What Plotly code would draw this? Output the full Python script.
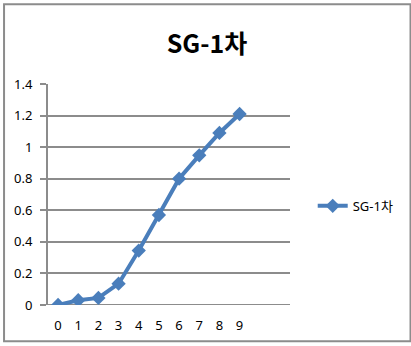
import plotly.graph_objects as go

categories = [0, 1, 2, 3, 4, 5, 6, 7, 8, 9]
values = [0.0, 0.03, 0.045, 0.135, 0.345, 0.57, 0.80, 0.948, 1.09, 1.21]
series_name = "SG-1차"
title_text = "SG-1차"
y_ticks = [0, 0.2, 0.4, 0.6, 0.8, 1.0, 1.2, 1.4]
y_labels = ["0", "0.2", "0.4", "0.6", "0.8", "1", "1.2", "1.4"]
n_slots = 12

BLUE = "#4a7ebb"
GRID = "#8c8c8c"
FONT = "Noto Sans, Noto Sans CJK KR, sans-serif"

fig = go.Figure()
fig.add_trace(go.Scatter(
    x=categories, y=values, name=series_name, mode="lines+markers",
    line=dict(color=BLUE, width=4),
    marker=dict(symbol="diamond", size=11, color=BLUE),
    xaxis="x2", yaxis="y",
))

W, H = 411, 346
L, R, T, B = 48, 293, 84, 307

fig.update_layout(
    width=W, height=H,
    margin=dict(l=L, r=W - R, t=T, b=H - B),
    paper_bgcolor="white", plot_bgcolor="white",
    title=dict(text="<b>" + title_text + "</b>", x=(207) / W, xanchor="center",
               y=1 - 44 / H, yanchor="middle",
               font=dict(family="Noto Sans CJK KR, sans-serif", size=25, color="black")),
    showlegend=True,
    legend=dict(x=(316 - L) / (R - L), y=(B - 207) / (B - T), xanchor="left", yanchor="middle",
                font=dict(family=FONT, size=13, color="black"), bgcolor="rgba(0,0,0,0)",
                itemwidth=30),
    xaxis=dict(range=[-0.5, n_slots - 0.5], tickvals=[i - 0.5 for i in range(n_slots + 1)],
               ticktext=[""] * (n_slots + 1), ticks="outside", ticklen=5, tickwidth=2,
               tickcolor=GRID, showgrid=False, zeroline=False, showline=False,
               showticklabels=False),
    xaxis2=dict(range=[-0.5, n_slots - 0.5], overlaying="x", tickvals=categories,
                ticktext=[str(c) for c in categories], ticks="", showgrid=False,
                zeroline=False, showline=False, side="bottom", ticklabelstandoff=11,
                tickfont=dict(family=FONT, size=13, color="black")),
    yaxis=dict(range=[0, 1.4], tickvals=y_ticks, ticktext=y_labels, ticks="outside",
               ticklen=6, tickwidth=2, tickcolor=GRID, showgrid=True, gridcolor=GRID,
               gridwidth=2, zeroline=False, showline=True, linecolor=GRID, linewidth=2,
               ticklabelstandoff=5,
               tickfont=dict(family=FONT, size=13, color="black")),
    shapes=[dict(type="rect", xref="paper", yref="paper",
                 x0=(3.5 - L) / (R - L), x1=(415 - L) / (R - L),
                 y0=(B - 343.5) / (B - T), y1=(B - 3.5) / (B - T),
                 line=dict(color="#8c8c8c", width=2), fillcolor="rgba(0,0,0,0)", layer="below"),
            dict(type="line", xref="paper", yref="y", x0=0, x1=1, y0=0, y1=0,
                 line=dict(color=GRID, width=2), layer="below")],
)

fig.write_html("out.html")
